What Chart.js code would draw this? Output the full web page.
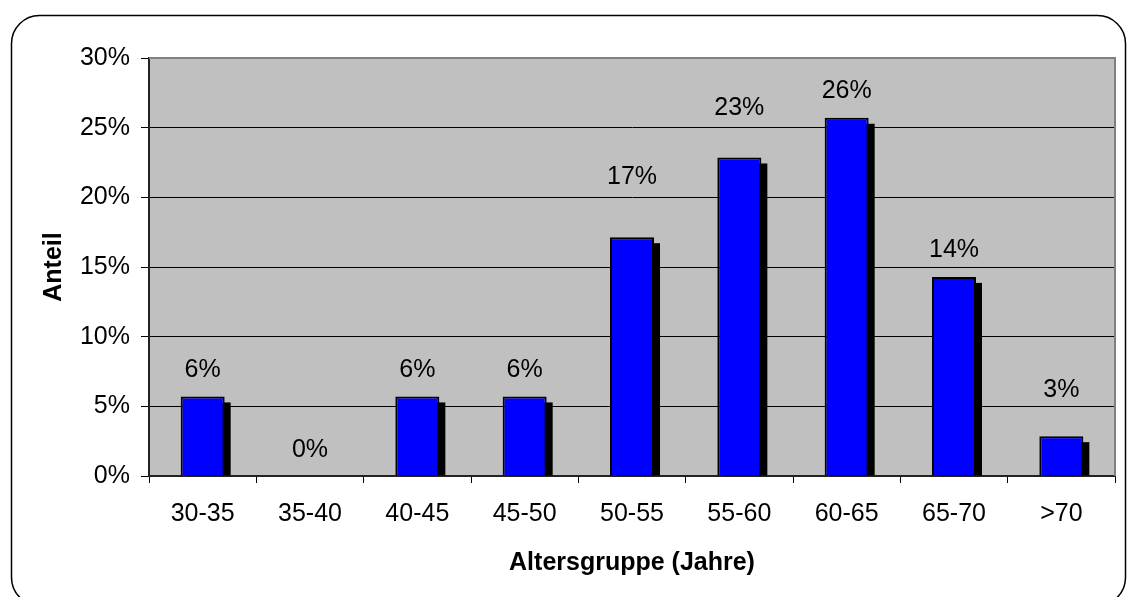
<!DOCTYPE html>
<html>
<head>
<meta charset="utf-8">
<script src="https://cdn.jsdelivr.net/npm/chart.js@4/dist/chart.umd.min.js"></script>
<style>
  html, body { margin: 0; padding: 0; background: #fff; }
  #wrap { width: 1128px; height: 597px; position: relative; }
</style>
</head>
<body>
<div id="wrap"><canvas id="c" width="1128" height="597"></canvas></div>
<script>
// Age groups (years) and their share in percent
const ageGroups = ['30-35', '35-40', '40-45', '45-50', '50-55', '55-60', '60-65', '65-70', '>70'];
const shares = [5.71, 0, 5.71, 5.71, 17.14, 22.86, 25.71, 14.29, 2.86];

// Value axis
const yMin = 0;
const yMax = 30;
const yStep = 5;

const FONT = "'Liberation Sans', Arial, Helvetica, sans-serif";
const FONT_SIZE = 25;

// Vertical gap (px) between each bar top and its value label
const labelGaps = [26, 26, 26, 26, 60, 49, 27, 27, 46];

// White page with a rounded frame, grey plot area
const framePlugin = {
  id: 'frame',
  beforeDraw(chart) {
    const { ctx, chartArea: a } = chart;
    ctx.save();
    ctx.fillStyle = '#fff';
    ctx.fillRect(0, 0, chart.width, chart.height);
    ctx.beginPath();
    ctx.roundRect(11.5, 15.5, 1114, 590, 28);
    ctx.lineWidth = 1.5;
    ctx.strokeStyle = '#000';
    ctx.stroke();
    ctx.fillStyle = '#C0C0C0';
    ctx.fillRect(a.left, a.top, a.right - a.left, a.bottom - a.top);
    ctx.restore();
  },
  beforeDatasetsDraw(chart) {
    // drop shadow behind each bar
    const { ctx } = chart;
    const meta = chart.getDatasetMeta(0);
    ctx.save();
    ctx.fillStyle = '#000';
    meta.data.forEach((bar, i) => {
      if (!shares[i]) return;
      const p = bar.getProps(['x', 'y', 'base', 'width'], true);
      const off = 6;
      ctx.fillRect(p.x - p.width / 2 + off, p.y + off, p.width, p.base - p.y - off);
    });
    ctx.restore();
  },
  afterDatasetsDraw(chart) {
    const { ctx, chartArea: a } = chart;
    ctx.save();
    // grey plot-area edge on top and right
    ctx.strokeStyle = '#808080';
    ctx.lineWidth = 2;
    ctx.beginPath();
    ctx.moveTo(a.left, a.top);
    ctx.lineTo(a.right, a.top);
    ctx.lineTo(a.right, a.bottom);
    ctx.stroke();
    // value labels
    const meta = chart.getDatasetMeta(0);
    ctx.fillStyle = '#000';
    ctx.font = FONT_SIZE + 'px ' + FONT;
    ctx.textAlign = 'center';
    ctx.textBaseline = 'middle';
    meta.data.forEach((bar, i) => {
      const p = bar.getProps(['x', 'y'], true);
      ctx.fillText(Math.round(shares[i]) + '%', p.x, p.y - labelGaps[i]);
    });
    ctx.restore();
  }
};

new Chart(document.getElementById('c'), {
  type: 'bar',
  data: {
    labels: ageGroups,
    datasets: [{
      data: shares,
      backgroundColor: '#0000FF',
      borderColor: '#000',
      borderWidth: 2,
      borderSkipped: 'bottom',
      categoryPercentage: 1,
      barPercentage: 0.41
    }]
  },
  options: {
    responsive: false,
    animation: false,
    devicePixelRatio: 1,
    layout: { padding: { left: 0, top: 58, right: 13, bottom: 0 } },
    plugins: {
      legend: { display: false },
      tooltip: { enabled: false }
    },
    scales: {
      x: {
        offset: true,
        grid: {
          offset: true,
          drawOnChartArea: false,
          drawTicks: true,
          tickLength: 7,
          color: '#000',
          lineWidth: 1
        },
        border: { color: '#222', width: 2 },
        ticks: {
          color: '#000',
          font: { family: FONT, size: FONT_SIZE },
          padding: 16,
          maxRotation: 0,
          autoSkip: false
        },
        title: {
          display: true,
          text: 'Altersgruppe (Jahre)',
          color: '#000',
          font: { family: FONT, size: FONT_SIZE, weight: 'bold' },
          padding: { top: 0, bottom: 19 }
        },
        afterFit(scale) { scale.height = 121; }
      },
      y: {
        min: yMin,
        max: yMax,
        ticks: {
          stepSize: yStep,
          color: '#000',
          font: { family: FONT, size: FONT_SIZE },
          padding: 11,
          callback: (v) => v + '%'
        },
        grid: {
          color: (c) => (c.tick && c.tick.value === yMax) ? 'rgba(0,0,0,0)' : '#000',
          tickColor: '#000',
          lineWidth: 1,
          drawTicks: true,
          tickLength: 8
        },
        border: { color: '#222', width: 2 },
        title: {
          display: true,
          text: 'Anteil',
          color: '#000',
          font: { family: FONT, size: FONT_SIZE, weight: 'bold' },
          padding: { top: 39, bottom: 0 }
        },
        afterFit(scale) { scale.width = 149; }
      }
    }
  },
  plugins: [framePlugin]
});
</script>
</body>
</html>
